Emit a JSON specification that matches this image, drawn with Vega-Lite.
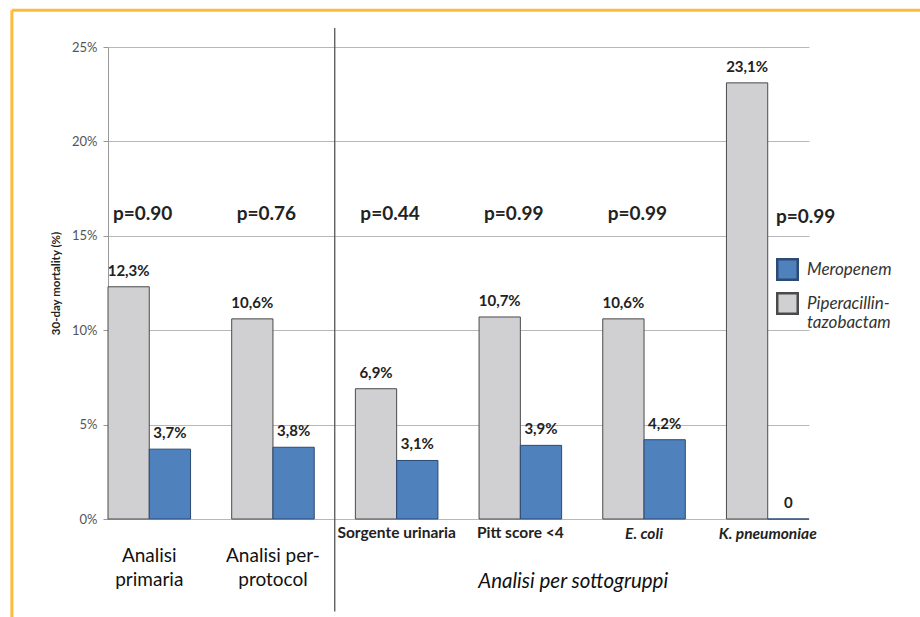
{
  "$schema": "https://vega.github.io/schema/vega-lite/v6.json",
  "width": 701,
  "height": 472,
  "autosize": "none",
  "padding": {"left": 108, "top": 47, "right": 111, "bottom": 98},
  "background": "white",
  "config": {
    "view": {"stroke": null},
    "font": "Lato",
    "text": {"font": "Lato", "lineBreak": "\n"}
  },
  "datasets": {
    "bars": [
      {"category": "Analisi primaria", "treatment": "Piperacillin-tazobactam", "mortality": 0.123, "label": "12,3%"},
      {"category": "Analisi primaria", "treatment": "Meropenem", "mortality": 0.037, "label": "3,7%"},
      {"category": "Analisi per-protocol", "treatment": "Piperacillin-tazobactam", "mortality": 0.106, "label": "10,6%"},
      {"category": "Analisi per-protocol", "treatment": "Meropenem", "mortality": 0.038, "label": "3,8%"},
      {"category": "Sorgente urinaria", "treatment": "Piperacillin-tazobactam", "mortality": 0.069, "label": "6,9%"},
      {"category": "Sorgente urinaria", "treatment": "Meropenem", "mortality": 0.031, "label": "3,1%"},
      {"category": "Pitt score <4", "treatment": "Piperacillin-tazobactam", "mortality": 0.107, "label": "10,7%"},
      {"category": "Pitt score <4", "treatment": "Meropenem", "mortality": 0.039, "label": "3,9%"},
      {"category": "E. coli", "treatment": "Piperacillin-tazobactam", "mortality": 0.106, "label": "10,6%"},
      {"category": "E. coli", "treatment": "Meropenem", "mortality": 0.042, "label": "4,2%"},
      {"category": "K. pneumoniae", "treatment": "Piperacillin-tazobactam", "mortality": 0.231, "label": "23,1%"},
      {"category": "K. pneumoniae", "treatment": "Meropenem", "mortality": 0.0, "label": "0"}
    ],
    "pvalues": [
      {"category": "Analisi primaria", "p": "p=0.90"},
      {"category": "Analisi per-protocol", "p": "p=0.76"},
      {"category": "Sorgente urinaria", "p": "p=0.44"},
      {"category": "Pitt score <4", "p": "p=0.99"},
      {"category": "E. coli", "p": "p=0.99"},
      {"category": "K. pneumoniae", "p": "p=0.99"}
    ],
    "sublabels": [
      {"category": "Sorgente urinaria", "name": "Sorgente urinaria", "italic": false},
      {"category": "Pitt score <4", "name": "Pitt score <4", "italic": false},
      {"category": "E. coli", "name": "E. coli", "italic": true},
      {"category": "K. pneumoniae", "name": "K. pneumoniae", "italic": true}
    ],
    "mainlabels": [
      {"category": "Analisi primaria", "name": "Analisi\nprimaria"},
      {"category": "Analisi per-protocol", "name": "Analisi per-\nprotocol"}
    ]
  },
  "encoding": {
    "x": {
      "field": "category",
      "type": "nominal",
      "sort": ["Analisi primaria", "Analisi per-protocol", "Sorgente urinaria", "Pitt score <4", "E. coli", "K. pneumoniae"],
      "scale": {"paddingInner": 0.3325, "paddingOuter": 0},
      "axis": null
    }
  },
  "layer": [
    {
      "data": {"name": "bars"},
      "mark": {"type": "bar", "strokeWidth": 1},
      "encoding": {
        "xOffset": {
          "field": "treatment",
          "type": "nominal",
          "sort": ["Piperacillin-tazobactam", "Meropenem"],
          "scale": {"paddingInner": 0, "paddingOuter": 0}
        },
        "y": {
          "field": "mortality",
          "type": "quantitative",
          "scale": {"domain": [0, 0.25], "nice": false},
          "axis": {
            "values": [0, 0.05, 0.1, 0.15, 0.2, 0.25],
            "format": ".0%",
            "title": "30-day mortality (%)",
            "titleFont": "Lato",
            "titleFontSize": 11.5,
            "titleFontWeight": "bold",
            "titleColor": "#222",
            "titlePadding": 10,
            "labelFont": "Lato",
            "labelFontSize": 13,
            "labelColor": "#555",
            "labelPadding": 6,
            "tickColor": "#999",
            "tickSize": 5,
            "domainColor": "#999",
            "gridColor": "#b8b8b8",
            "grid": true
          }
        },
        "color": {
          "field": "treatment",
          "type": "nominal",
          "scale": {"domain": ["Meropenem", "Piperacillin-tazobactam"], "range": ["#4F81BD", "#D0D0D2"]},
          "legend": {
            "orient": "none",
            "legendX": 668,
            "legendY": 211,
            "title": null,
            "padding": 0,
            "symbolType": "square",
            "symbolSize": 420,
            "symbolStrokeColor": "#111",
            "symbolStrokeWidth": 2.5,
            "symbolOpacity": 1,
            "labelFont": "Lato",
            "labelFontStyle": "italic",
            "labelFontSize": 17,
            "labelColor": "#333",
            "labelOffset": 8,
            "rowPadding": 3,
            "labelExpr": "datum.label == 'Piperacillin-tazobactam' ? ['Piperacillin-', 'tazobactam'] : datum.label"
          }
        },
        "stroke": {
          "field": "treatment",
          "type": "nominal",
          "scale": {"domain": ["Meropenem", "Piperacillin-tazobactam"], "range": ["#2B4A74", "#4a4a4a"]},
          "legend": null
        }
      }
    },
    {
      "data": {"name": "bars"},
      "mark": {"type": "text", "font": "Lato", "fontWeight": "bold", "fontSize": 15, "color": "#222", "baseline": "middle", "dy": -16},
      "encoding": {
        "xOffset": {
          "field": "treatment",
          "type": "nominal",
          "sort": ["Piperacillin-tazobactam", "Meropenem"],
          "scale": {"paddingInner": 0, "paddingOuter": 0}
        },
        "y": {"field": "mortality", "type": "quantitative"},
        "text": {"field": "label"}
      }
    },
    {
      "data": {"name": "pvalues"},
      "transform": [{"filter": "datum.category != 'K. pneumoniae'"}],
      "mark": {"type": "text", "font": "Lato", "fontWeight": "bold", "fontSize": 19, "color": "#222", "baseline": "middle"},
      "encoding": {
        "x": {"field": "category", "type": "nominal", "bandPosition": 0.42},
        "y": {"datum": 0.1615},
        "text": {"field": "p"}
      }
    },
    {
      "data": {"name": "pvalues"},
      "transform": [{"filter": "datum.category == 'K. pneumoniae'"}],
      "mark": {"type": "text", "font": "Lato", "fontWeight": "bold", "fontSize": 19, "color": "#222", "baseline": "middle"},
      "encoding": {
        "x": {"field": "category", "type": "nominal", "bandPosition": 0.96},
        "y": {"datum": 0.16},
        "text": {"field": "p"}
      }
    },
    {
      "data": {"name": "sublabels"},
      "transform": [{"filter": "!datum.italic"}],
      "mark": {"type": "text", "font": "Lato", "fontWeight": "bold", "fontSize": 15.5, "color": "#222", "baseline": "middle", "dy": 14},
      "encoding": {
        "y": {"datum": 0},
        "text": {"field": "name"}
      }
    },
    {
      "data": {"name": "sublabels"},
      "transform": [{"filter": "datum.italic"}],
      "mark": {"type": "text", "font": "Lato", "fontWeight": "bold", "fontStyle": "italic", "fontSize": 15.5, "color": "#222", "baseline": "middle", "dy": 15},
      "encoding": {
        "y": {"datum": 0},
        "text": {"field": "name"}
      }
    },
    {
      "data": {"name": "mainlabels"},
      "mark": {"type": "text", "font": "Lato", "fontSize": 19, "color": "#111", "baseline": "top", "lineHeight": 24, "dy": 28},
      "encoding": {
        "y": {"datum": 0},
        "text": {"field": "name"}
      }
    },
    {
      "data": {"values": [{"name": "Analisi per sottogruppi"}]},
      "mark": {"type": "text", "font": "Lato", "fontSize": 20.5, "fontStyle": "italic", "color": "#111", "baseline": "middle", "dy": 63},
      "encoding": {
        "x": {"datum": "Pitt score <4", "bandPosition": 1.14},
        "y": {"datum": 0},
        "text": {"field": "name"}
      }
    },
    {
      "data": {"values": [{"name": "separator"}]},
      "mark": {"type": "rule", "color": "#555", "strokeWidth": 1.3},
      "encoding": {
        "x": {"datum": "Sorgente urinaria", "bandPosition": -0.25},
        "y": {"datum": 0.26},
        "y2": {"datum": -0.049}
      }
    },
    {
      "data": {"values": [{"name": "frame"}]},
      "mark": {"type": "rule", "color": "#FDBB3A", "strokeWidth": 3},
      "encoding": {
        "x": {"datum": "Analisi primaria", "bandPosition": -1.164},
        "y": {"datum": 0.2695},
        "y2": {"datum": -0.06}
      }
    },
    {
      "data": {"values": [{"name": "frame"}]},
      "mark": {"type": "rule", "color": "#FDBB3A", "strokeWidth": 3},
      "encoding": {
        "x": {"datum": "Analisi primaria", "bandPosition": -1.164},
        "x2": {"datum": "K. pneumoniae", "bandPosition": 2.4},
        "y": {"datum": 0.2695}
      }
    }
  ]
}
